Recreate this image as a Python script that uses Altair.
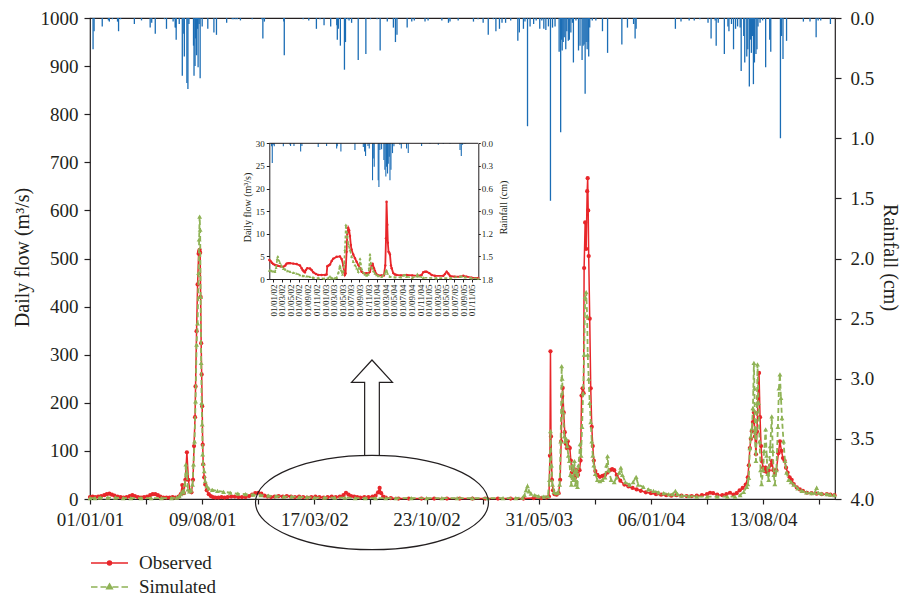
import altair as alt
import pandas as pd

INK = "#231f20"
RED = "#e8262a"
GREEN = "#8fb356"
BLUE = "#1b6db5"
FONT = "Liberation Serif"

MAIN_START = "2001-01-01"
INSET_START = "2002-01-01"
SERIES = ["Observed", "Simulated"]

# ---- main chart: daily flow (day offset from 01/01/01, m3/s) ----
obs_main = [
    (0, 4), (5, 5), (10, 4), (16, 5), (22, 6), (28, 8), (33, 10), (38, 11), (43, 9), (48, 7),
    (54, 5), (60, 4), (66, 3), (72, 4), (78, 6), (83, 8), (88, 6), (94, 4), (100, 3), (106, 4),
    (112, 5), (118, 8), (123, 10), (128, 10), (133, 8), (138, 5), (144, 3), (150, 3), (156, 3),
    (162, 4), (168, 3), (174, 5), (178, 10), (181, 29), (184, 12), (187, 40), (190, 97), (193, 40),
    (196, 16), (199, 14), (202, 40), (204, 110), (206, 170), (207, 234), (209, 349), (211, 446),
    (213, 510), (214, 515), (215, 518), (216, 512), (217, 420), (218, 324), (219, 259), (220, 193),
    (221, 113), (222, 72), (224, 45), (226, 30), (229, 18), (233, 10), (237, 6), (241, 4), (246, 3),
    (252, 3), (258, 4), (264, 3), (270, 4), (277, 5), (284, 5), (291, 4), (298, 4), (305, 4),
    (312, 6), (318, 9), (324, 12), (330, 13), (336, 11), (342, 7), (348, 5), (355, 4), (362, 5),
    (370, 6), (378, 5), (386, 6), (394, 5), (402, 4), (410, 5), (418, 4), (426, 3), (434, 4),
    (442, 5), (450, 4), (458, 3), (466, 4), (474, 5), (482, 4), (490, 5), (497, 8), (502, 13),
    (507, 9), (512, 6), (518, 5), (524, 4), (530, 3), (538, 4), (546, 4), (554, 5), (560, 7),
    (565, 14), (568, 23), (571, 12), (575, 5), (580, 3), (590, 2), (605, 1), (625, 1), (650, 1),
    (675, 1), (700, 1), (725, 1), (750, 1), (775, 1), (800, 1), (825, 1), (850, 1), (870, 2),
    (885, 2), (895, 3), (900, 5), (902, 90), (903, 307), (904, 130), (906, 40), (908, 18),
    (911, 10), (915, 9), (919, 12), (922, 40), (924, 120), (926, 214), (927, 231), (929, 180),
    (931, 139), (933, 115), (935, 106), (937, 120), (939, 108), (941, 106), (943, 80), (945, 55),
    (948, 65), (951, 44), (954, 60), (957, 50), (960, 60), (962, 80), (964, 215), (966, 230),
    (968, 220), (969, 480), (971, 575), (973, 520), (975, 640), (976, 667), (977, 600), (978, 505),
    (980, 375), (982, 230), (984, 150), (986, 110), (988, 80), (991, 58), (995, 50), (1000, 46),
    (1005, 48), (1010, 50), (1015, 55), (1020, 60), (1024, 62), (1028, 60), (1033, 50), (1040, 38),
    (1048, 30), (1056, 26), (1064, 23), (1072, 20), (1080, 17), (1090, 14), (1100, 12), (1110, 10),
    (1120, 9), (1130, 8), (1140, 7), (1150, 8), (1160, 7), (1170, 6), (1180, 6), (1190, 7),
    (1200, 8), (1210, 10), (1216, 13), (1222, 12), (1230, 9), (1240, 8), (1248, 10), (1255, 13),
    (1262, 9), (1268, 12), (1274, 18), (1280, 23), (1286, 30), (1290, 45), (1292, 70), (1294, 106),
    (1296, 125), (1298, 141), (1300, 160), (1302, 180), (1304, 130), (1306, 93), (1308, 140),
    (1310, 210), (1312, 262), (1314, 170), (1316, 110), (1318, 78), (1320, 65), (1323, 58),
    (1325, 65), (1328, 55), (1331, 60), (1334, 70), (1337, 79), (1340, 60), (1343, 52), (1346, 60),
    (1350, 95), (1353, 120), (1356, 100), (1359, 85), (1362, 80), (1365, 65), (1368, 55),
    (1372, 45), (1376, 40), (1380, 31), (1386, 24), (1392, 20), (1398, 17), (1406, 13), (1415, 12),
    (1425, 11), (1435, 10), (1445, 10), (1452, 9), (1460, 8),
]

sim_main = [
    (0, 2), (10, 2), (20, 3), (35, 3), (50, 3), (65, 2), (80, 2), (100, 2), (120, 2), (140, 2),
    (160, 2), (170, 3), (175, 6), (178, 10), (181, 16), (184, 14), (186, 30), (188, 72), (190, 55),
    (192, 20), (195, 16), (198, 18), (201, 30), (203, 72), (205, 120), (207, 203), (209, 321),
    (211, 365), (213, 470), (214, 540), (215, 587), (216, 560), (217, 420), (218, 283), (219, 200),
    (220, 155), (221, 93), (222, 73), (224, 58), (226, 37), (229, 27), (233, 22), (240, 19),
    (250, 17), (262, 15), (275, 13), (290, 11), (305, 10), (320, 9), (335, 8), (350, 7), (365, 6),
    (380, 5), (395, 5), (410, 4), (425, 4), (440, 3), (460, 3), (480, 3), (500, 3), (520, 2),
    (540, 2), (560, 2), (580, 2), (600, 2), (630, 2), (660, 2), (690, 2), (720, 2), (750, 2),
    (780, 2), (810, 2), (835, 2), (848, 3), (852, 8), (855, 18), (858, 27), (861, 16), (865, 11),
    (872, 8), (880, 6), (890, 5), (898, 6), (901, 40), (903, 141), (905, 70), (907, 30), (910, 15),
    (914, 12), (918, 13), (921, 30), (923, 120), (925, 276), (926, 250), (928, 180), (930, 130),
    (932, 120), (934, 125), (936, 110), (938, 90), (940, 79), (942, 50), (944, 30), (946, 70),
    (948, 40), (950, 79), (952, 30), (954, 60), (956, 25), (958, 70), (961, 114), (963, 90),
    (965, 150), (967, 220), (969, 300), (971, 420), (973, 430), (975, 380), (976, 300), (978, 250),
    (980, 200), (982, 160), (984, 120), (986, 90), (988, 70), (991, 52), (995, 40), (1000, 37),
    (1005, 40), (1010, 45), (1013, 70), (1015, 89), (1017, 60), (1022, 40), (1028, 35), (1033, 45),
    (1038, 55), (1041, 65), (1044, 50), (1050, 35), (1058, 30), (1065, 35), (1071, 46), (1075, 30),
    (1085, 25), (1095, 20), (1105, 17), (1115, 14), (1125, 12), (1135, 10), (1143, 10), (1148, 17),
    (1152, 10), (1160, 7), (1175, 6), (1190, 5), (1210, 5), (1230, 5), (1250, 5), (1265, 5),
    (1275, 8), (1282, 15), (1288, 25), (1290, 31), (1292, 44), (1294, 106), (1296, 130), (1298, 147),
    (1300, 189), (1302, 283), (1303, 230), (1304, 140), (1306, 79), (1308, 200), (1309, 280),
    (1311, 200), (1313, 120), (1315, 60), (1317, 31), (1320, 60), (1322, 100), (1325, 145),
    (1327, 90), (1329, 52), (1331, 40), (1334, 110), (1337, 172), (1339, 100), (1341, 50),
    (1343, 31), (1346, 60), (1349, 150), (1351, 230), (1353, 259), (1355, 210), (1357, 168),
    (1360, 120), (1363, 79), (1366, 55), (1370, 40), (1375, 35), (1380, 30), (1388, 22), (1396, 17),
    (1405, 14), (1415, 12), (1421, 13), (1425, 23), (1428, 13), (1435, 11), (1445, 10), (1452, 9),
    (1460, 8),
]

# daily rainfall (day offset from 01/01/01, cm)
rain_main = [
    (6, 0.26), (8, 0.11), (24, 0.07), (36, 0.02), (38, 0.03), (44, 0.01), (54, 0.03), (56, 0.11),
    (60, 0.01), (87, 0.05), (101, 0.02), (118, 0.08), (121, 0.04), (128, 0.13), (146, 0.01),
    (150, 0.09), (163, 0.03), (167, 0.08), (168, 0.08), (169, 0.18), (175, 0.05), (181, 0.48),
    (184, 0.13), (185, 0.32), (190, 0.54), (192, 0.59), (194, 0.05), (203, 0.23), (204, 0.48),
    (206, 0.40), (207, 0.17), (209, 0.31), (211, 0.09), (212, 0.41), (214, 0.05), (216, 0.50),
    (220, 0.07), (231, 0.09), (243, 0.12), (248, 0.14), (268, 0.04), (279, 0.01), (282, 0.01),
    (286, 0.01), (289, 0.01), (295, 0.02), (318, 0.01), (337, 0.01), (339, 0.17), (342, 0.03),
    (380, 0.03), (381, 0.31), (418, 0.01), (429, 0.02), (444, 0.09), (451, 0.01), (459, 0.06),
    (472, 0.07), (484, 0.06), (485, 0.18), (487, 0.09), (491, 0.23), (499, 0.43), (501, 0.20),
    (505, 0.01), (508, 0.02), (513, 0.04), (526, 0.35), (541, 0.30), (550, 0.01), (563, 0.01),
    (569, 0.27), (583, 0.03), (595, 0.08), (599, 0.20), (602, 0.14), (622, 0.08), (631, 0.03),
    (636, 0.02), (657, 0.03), (663, 0.02), (690, 0.02), (703, 0.04), (706, 0.03), (722, 0.02),
    (752, 0.03), (761, 0.01), (771, 0.04), (781, 0.14), (791, 0.01), (796, 0.11), (803, 0.09),
    (808, 0.04), (815, 0.04), (825, 0.02), (839, 0.19), (842, 0.12), (850, 0.09), (853, 0.03),
    (858, 0.90), (863, 0.07), (870, 0.05), (875, 0.02), (882, 0.09), (886, 0.02), (890, 0.09),
    (894, 0.10), (899, 0.07), (903, 1.52), (907, 0.08), (912, 0.07), (920, 0.28), (923, 0.95),
    (925, 0.18), (926, 0.27), (928, 0.20), (930, 0.16), (933, 0.26), (935, 0.11), (938, 0.19),
    (940, 0.18), (943, 0.12), (946, 0.04), (948, 0.37), (953, 0.02), (958, 0.27), (961, 0.23),
    (965, 0.35), (967, 0.23), (969, 0.22), (971, 0.63), (973, 0.20), (975, 0.26), (977, 0.20),
    (978, 0.32), (980, 0.08), (985, 0.02), (992, 0.02), (1005, 0.11), (1015, 0.29), (1043, 0.22),
    (1054, 0.08), (1066, 0.05), (1069, 0.17), (1071, 0.09), (1148, 0.09), (1159, 0.03),
    (1175, 0.02), (1185, 0.02), (1196, 0.01), (1212, 0.04), (1218, 0.17), (1226, 0.02),
    (1228, 0.23), (1232, 0.04), (1244, 0.30), (1251, 0.07), (1253, 0.11), (1258, 0.05),
    (1262, 0.26), (1266, 0.09), (1270, 0.07), (1275, 0.08), (1277, 0.44), (1282, 0.15),
    (1284, 0.37), (1288, 0.32), (1290, 0.26), (1293, 0.57), (1295, 0.18), (1297, 0.29),
    (1299, 0.15), (1301, 0.55), (1303, 0.37), (1306, 0.30), (1308, 0.26), (1310, 0.07),
    (1314, 0.04), (1319, 0.02), (1325, 0.41), (1333, 0.18), (1335, 0.28), (1354, 1.00),
    (1356, 0.15), (1359, 0.34), (1366, 0.19), (1399, 0.03), (1412, 0.03), (1424, 0.16),
    (1428, 0.02), (1433, 0.02), (1452, 0.05),
]

# ---- inset (day offset from 01/01/02) ----
inset_obs = [
    (-28, 4.2), (-20, 4.0), (-10, 3.6), (0, 3.3), (12, 3.1), (24, 3.0), (35, 2.9), (50, 2.8),
    (71, 2.7), (85, 3.0), (94, 3.4), (106, 3.5), (118, 3.5), (141, 3.4), (165, 3.3), (188, 3.0),
    (200, 2.4), (207, 2.0), (215, 1.7), (223, 1.5), (230, 2.0), (240, 2.4), (259, 2.3), (270, 2.0),
    (282, 1.5), (301, 1.1), (317, 0.9), (341, 0.9), (364, 0.9), (376, 1.0), (381, 2.8), (390, 3.0),
    (400, 3.2), (412, 4.0), (423, 4.5), (447, 4.9), (470, 5.0), (482, 4.4), (494, 3.0), (500, 1.5),
    (505, 0.9), (510, 1.2), (517, 6.0), (522, 10.0), (529, 11.3), (535, 10.8), (541, 9.5),
    (547, 7.5), (552, 6.5), (564, 5.4), (576, 4.6), (588, 3.8), (600, 3.1), (611, 2.4), (623, 1.6),
    (635, 1.3), (647, 1.2), (658, 1.3), (670, 1.2), (682, 1.6), (694, 3.0), (701, 3.3), (710, 2.4),
    (717, 1.8), (729, 1.0), (741, 0.8), (764, 0.8), (780, 0.8), (790, 3.0), (795, 9.0), (799, 17.1),
    (804, 12.0), (808, 8.0), (813, 6.0), (818, 5.8), (823, 5.4), (830, 3.0), (835, 2.4), (846, 1.3),
    (858, 1.0), (870, 0.9), (900, 0.8), (940, 0.9), (980, 0.8), (1023, 0.7), (1046, 0.9),
    (1058, 1.5), (1070, 1.6), (1081, 1.6), (1100, 1.3), (1117, 0.9), (1140, 0.7), (1199, 0.7),
    (1211, 1.1), (1223, 1.6), (1234, 1.2), (1246, 0.7), (1280, 0.5), (1317, 0.5), (1340, 0.7),
    (1364, 0.5), (1400, 0.3), (1446, 0.2),
]

inset_sim = [
    (-28, 1.9), (-10, 1.8), (0, 1.7), (12, 1.6), (20, 2.5), (28, 4.5), (32, 5.0), (38, 4.2),
    (47, 3.6), (59, 2.8), (71, 2.3), (85, 2.1), (100, 1.8), (120, 1.6), (141, 1.4), (165, 1.2),
    (188, 0.9), (210, 0.7), (235, 0.6), (259, 0.5), (282, 0.3), (317, 0.2), (360, 0.1), (388, 0.2),
    (400, 0.6), (410, 0.2), (430, 0.2), (447, 0.3), (460, 1.5), (470, 3.0), (478, 2.0), (488, 1.0),
    (494, 1.8), (500, 3.5), (505, 6.5), (512, 12.0), (517, 10.5), (522, 9.5), (529, 7.7),
    (541, 6.4), (552, 5.0), (564, 3.8), (576, 3.1), (588, 2.4), (600, 1.6), (607, 2.5), (612, 4.5),
    (616, 3.5), (623, 2.2), (635, 1.5), (647, 1.0), (658, 0.8), (670, 1.0), (676, 2.5), (682, 5.5),
    (688, 3.5), (694, 2.6), (705, 1.8), (717, 1.2), (729, 0.9), (741, 0.7), (764, 0.5), (788, 1.2),
    (795, 1.8), (799, 2.0), (806, 1.2), (823, 0.5), (858, 0.4), (900, 0.4), (917, 0.8), (929, 0.9),
    (940, 0.5), (980, 0.3), (1011, 0.6), (1016, 1.0), (1023, 0.6), (1058, 0.3), (1150, 0.2),
    (1250, 0.2), (1317, 0.5), (1330, 0.6), (1352, 0.4), (1400, 0.2), (1446, 0.1),
]

inset_rain = [
    (-12, 0.04), (-7, 0.26), (0, 0.02), (7, 0.04), (71, 0.04), (118, 0.02), (122, 0.035),
    (146, 0.035), (193, 0.11), (202, 0.035), (317, 0.05), (376, 0.035), (447, 0.07), (451, 0.04),
    (477, 0.11), (576, 0.09), (635, 0.05), (644, 0.11), (651, 0.17), (668, 0.035), (677, 0.07),
    (700, 0.49), (705, 0.20), (712, 0.31), (740, 0.49), (745, 0.58), (752, 0.09), (764, 0.08),
    (780, 0.22), (787, 0.35), (794, 0.44), (799, 0.31), (806, 0.40), (811, 0.27), (818, 0.18),
    (823, 0.49), (830, 0.35), (841, 0.13), (851, 0.04), (893, 0.02), (903, 0.07), (940, 0.07),
    (952, 0.13), (1046, 0.035), (1105, 0.01), (1164, 0.02), (1199, 0.01), (1246, 0.01),
    (1317, 0.09), (1326, 0.17), (1335, 0.02), (1352, 0.01),
]

# ellipse + arrow annotation anchor (day offset from 01/01/01, flow units)
annot_day = [553]
ellipse_flow = [-7.3]
arrow_flow = [189.2]


def to_frame(pairs, origin, series=None):
    df = pd.DataFrame(pairs, columns=["day", "value"])
    dates = pd.Timestamp(origin) + pd.to_timedelta(df["day"], unit="D")
    df["date"] = dates.dt.strftime("%Y-%m-%dT00:00:00")
    if series is not None:
        df["series"] = series
    return df.drop(columns=["day"])


def dt(ts):
    ts = pd.Timestamp(ts)
    return alt.DateTime(year=ts.year, month=ts.month, date=ts.day)


df_obs = to_frame(obs_main, MAIN_START, SERIES[0])
df_sim = to_frame(sim_main, MAIN_START, SERIES[1])
df_rain = to_frame(rain_main, MAIN_START)
df_in_obs = to_frame(inset_obs, INSET_START)
df_in_sim = to_frame(inset_sim, INSET_START)
df_in_rain = to_frame(inset_rain, INSET_START)
df_ellipse = to_frame(list(zip(annot_day, ellipse_flow)), MAIN_START)
df_arrow = to_frame(list(zip(annot_day, arrow_flow)), MAIN_START)
df_in_frame = pd.DataFrame({"start": ["2001-12-04T00:00:00"], "end": ["2005-12-17T00:00:00"], "top": [30]})

# ---- scales ----
X_MAIN = alt.Scale(domain=[dt("2001-01-01"), dt("2005-01-01")])
Y_FLOW = alt.Scale(domain=[0, 1000], nice=False)
Y_RAIN = alt.Scale(domain=[0, 4], reverse=True, nice=False)
X_IN = alt.Scale(domain=[dt("2001-12-04"), dt("2005-12-17")], range=[179.3, 388.3])
Y_IN_FLOW = alt.Scale(domain=[0, 30], range=[261, 125.3], nice=False)
Y_IN_RAIN = alt.Scale(domain=[0, 1.8], range=[125.3, 261], nice=False)
COLOR = alt.Scale(domain=SERIES, range=[RED, GREEN])

main_ticks = [dt(d) for d in pd.date_range(MAIN_START, periods=14, freq="110D")]
inset_ticks = [dt(d) for d in pd.date_range(INSET_START, "2005-11-01", freq="2MS")]

label_expr = ("(round((datum.value - datetime(2001, 0, 1)) / 86400000 / 110) % 2 == 0) "
              "? timeFormat(datum.value, '%d/%m/%y') : ''")

AX_X = alt.Axis(orient="bottom", values=main_ticks, labelExpr=label_expr, domain=False,
                tickSize=5, tickWidth=1.2, labelPadding=6, labelFontSize=19,
                labelOverlap=False, labelFlush=False, title=None)
AX_FLOW = alt.Axis(orient="left", values=list(range(0, 1001, 100)), format="d", domain=False,
                   tickSize=6, tickWidth=1.2, labelPadding=6, labelFontSize=19,
                   labelOverlap=False, title="Daily flow (m³/s)", titleFontSize=20,
                   titleAngle=270, titleX=-68, titleY=239, titleAlign="center",
                   titleBaseline="middle")
AX_RAIN = alt.Axis(orient="right", values=[0, 0.5, 1, 1.5, 2, 2.5, 3, 3.5, 4], format=".1f",
                   domain=False, tickSize=6, tickWidth=1.2, labelPadding=9, labelFontSize=19,
                   labelOverlap=False, title="Rainfall (cm)", titleFontSize=20, titleAngle=90,
                   titleX=54, titleY=239, titleAlign="center", titleBaseline="middle")
AX_IN_X = alt.Axis(orient="bottom", offset=-220, values=inset_ticks, format="%d/%m/%y",
                   labelAngle=270, labelFontSize=9, tickSize=3, labelPadding=2,
                   labelOverlap=False, labelFlush=False, domain=True, title=None)
AX_IN_FLOW = alt.Axis(orient="left", offset=-179.3, values=[0, 5, 10, 15, 20, 25, 30],
                      labelFontSize=9, tickSize=3, labelPadding=2, domain=True,
                      labelOverlap=False, title="Daily flow (m³/s)", titleFontSize=10,
                      titleAngle=270, titleX=-21.3, titleY=189, titleAlign="center",
                      titleBaseline="middle")
AX_IN_RAIN = alt.Axis(orient="right", offset=-356.7, values=[0, 0.3, 0.6, 0.9, 1.2, 1.5, 1.8],
                      format=".1f", labelFontSize=9, tickSize=2, labelPadding=1, domain=True,
                      labelOverlap=False, title="Rainfall (cm)", titleFontSize=10,
                      titleAngle=270, titleX=24.7, titleY=189, titleAlign="center",
                      titleBaseline="middle")

OBS_SYMBOL = ("M-1.85,0L1.85,0M-0.2,0C-0.2,-0.11,-0.11,-0.2,0,-0.2C0.11,-0.2,0.2,-0.11,0.2,0"
              "C0.2,0.11,0.11,0.2,0,0.2C-0.11,0.2,-0.2,0.11,-0.2,0Z")
SIM_SYMBOL = "M-1.85,0L-1.2,0M-0.9,0L-0.3,0M0.3,0L0.9,0M1.2,0L1.85,0M0,-0.3L0.28,0.18L-0.28,0.18Z"

LEGEND = alt.Legend(
    title=None, orient="none", legendX=8.5, legendY=534, padding=0, symbolSize=400,
    labelFont=FONT, labelFontSize=19, labelColor=INK, labelOffset=18.5, rowPadding=3,
    symbolStrokeWidth=1.5,
    symbolType=alt.ExprRef(expr=f"datum.value == 'Observed' ? '{OBS_SYMBOL}' : '{SIM_SYMBOL}'"),
    symbolFillColor=alt.ExprRef(expr=f"datum.value == 'Observed' ? '{RED}' : '{GREEN}'"),
    symbolStrokeColor=alt.ExprRef(expr=f"datum.value == 'Observed' ? '{RED}' : '{GREEN}'"),
)

ELLIPSE = ("M-1,0C-1,-0.224,-0.552,-0.405,0,-0.405C0.552,-0.405,1,-0.224,1,0"
           "C1,0.224,0.552,0.405,0,0.405C-0.552,0.405,-1,0.224,-1,0Z")
ARROW = "M-0.153,1L-0.153,-0.535L-0.427,-0.535L0,-1L0.427,-0.535L0.153,-0.535L0.153,1"


def mx(axis=None):
    return alt.X("date:T", scale=X_MAIN, axis=axis)


def my(axis=None):
    return alt.Y("value:Q", scale=Y_FLOW, axis=axis)


def ix(axis=None):
    return alt.X("date:T", scale=X_IN, axis=axis)


def iy(axis=None):
    return alt.Y("value:Q", scale=Y_IN_FLOW, axis=axis)


# ---- main layers ----
rain_chart = alt.Chart(df_rain).mark_rule(color=BLUE, strokeWidth=1.3).encode(
    x=mx(), y=alt.Y("value:Q", scale=Y_RAIN, axis=AX_RAIN), y2=alt.datum(0))

obs_line = alt.Chart(df_obs).mark_line(strokeWidth=1.5).encode(
    x=mx(AX_X), y=my(AX_FLOW), color=alt.Color("series:N", scale=COLOR, legend=LEGEND))
obs_pts = alt.Chart(df_obs).mark_point(shape="circle", filled=True, size=18, color=RED,
                                       opacity=1).encode(x=mx(), y=my())
sim_line = alt.Chart(df_sim).mark_line(strokeWidth=1.8, strokeDash=[5, 3]).encode(
    x=mx(), y=my(), color=alt.Color("series:N", scale=COLOR, legend=LEGEND))
sim_pts = alt.Chart(df_sim).mark_point(shape="triangle-up", filled=True, size=24, color=GREEN,
                                       opacity=1).encode(x=mx(), y=my())
arrow = alt.Chart(df_arrow).mark_point(shape=ARROW, size=9216, filled=True, fill="white",
                                       stroke=INK, strokeWidth=1.2, opacity=1).encode(x=mx(), y=my())
ellipse = alt.Chart(df_ellipse).mark_point(shape=ELLIPSE, size=54289, filled=False, color=INK,
                                           strokeWidth=1.2, opacity=1).encode(x=mx(), y=my())

# ---- inset layers ----
in_rain = alt.Chart(df_in_rain).mark_rule(color=BLUE, strokeWidth=1.1).encode(
    x=ix(), y=alt.Y("value:Q", scale=Y_IN_RAIN, axis=AX_IN_RAIN), y2=alt.datum(0))
in_top = alt.Chart(df_in_frame).mark_rule(color=INK, strokeWidth=1).encode(
    x=alt.X("start:T", scale=X_IN, axis=None), x2="end:T",
    y=alt.Y("top:Q", scale=Y_IN_FLOW, axis=None))
in_obs_line = alt.Chart(df_in_obs).mark_line(color=RED, strokeWidth=1.8).encode(
    x=ix(AX_IN_X), y=iy(AX_IN_FLOW))
in_obs_pts = alt.Chart(df_in_obs).mark_point(shape="circle", filled=True, size=6, color=RED,
                                             opacity=1).encode(x=ix(), y=iy())
in_sim_line = alt.Chart(df_in_sim).mark_line(color=GREEN, strokeWidth=1.6,
                                             strokeDash=[3, 2]).encode(x=ix(), y=iy())
in_sim_pts = alt.Chart(df_in_sim).mark_point(shape="triangle-up", filled=True, size=9,
                                             color=GREEN, opacity=1).encode(x=ix(), y=iy())

chart = alt.layer(
    rain_chart, obs_line, obs_pts, sim_line, sim_pts, arrow, ellipse,
    in_rain, in_top, in_obs_line, in_obs_pts, in_sim_line, in_sim_pts,
).resolve_scale(
    x="independent", y="independent"
).properties(
    width=745, height=481,
    autosize=alt.AutoSizeParams(type="none"),
    padding={"left": 82, "top": 10, "right": 67, "bottom": 100},
).configure_view(
    stroke=INK, strokeWidth=1.2
).configure_axis(
    labelFont=FONT, titleFont=FONT, labelColor=INK, titleColor=INK, tickColor=INK,
    domainColor=INK, titleFontWeight="normal", grid=False
)

chart.save("out.html", embed_options={"renderer": "svg", "actions": False})
